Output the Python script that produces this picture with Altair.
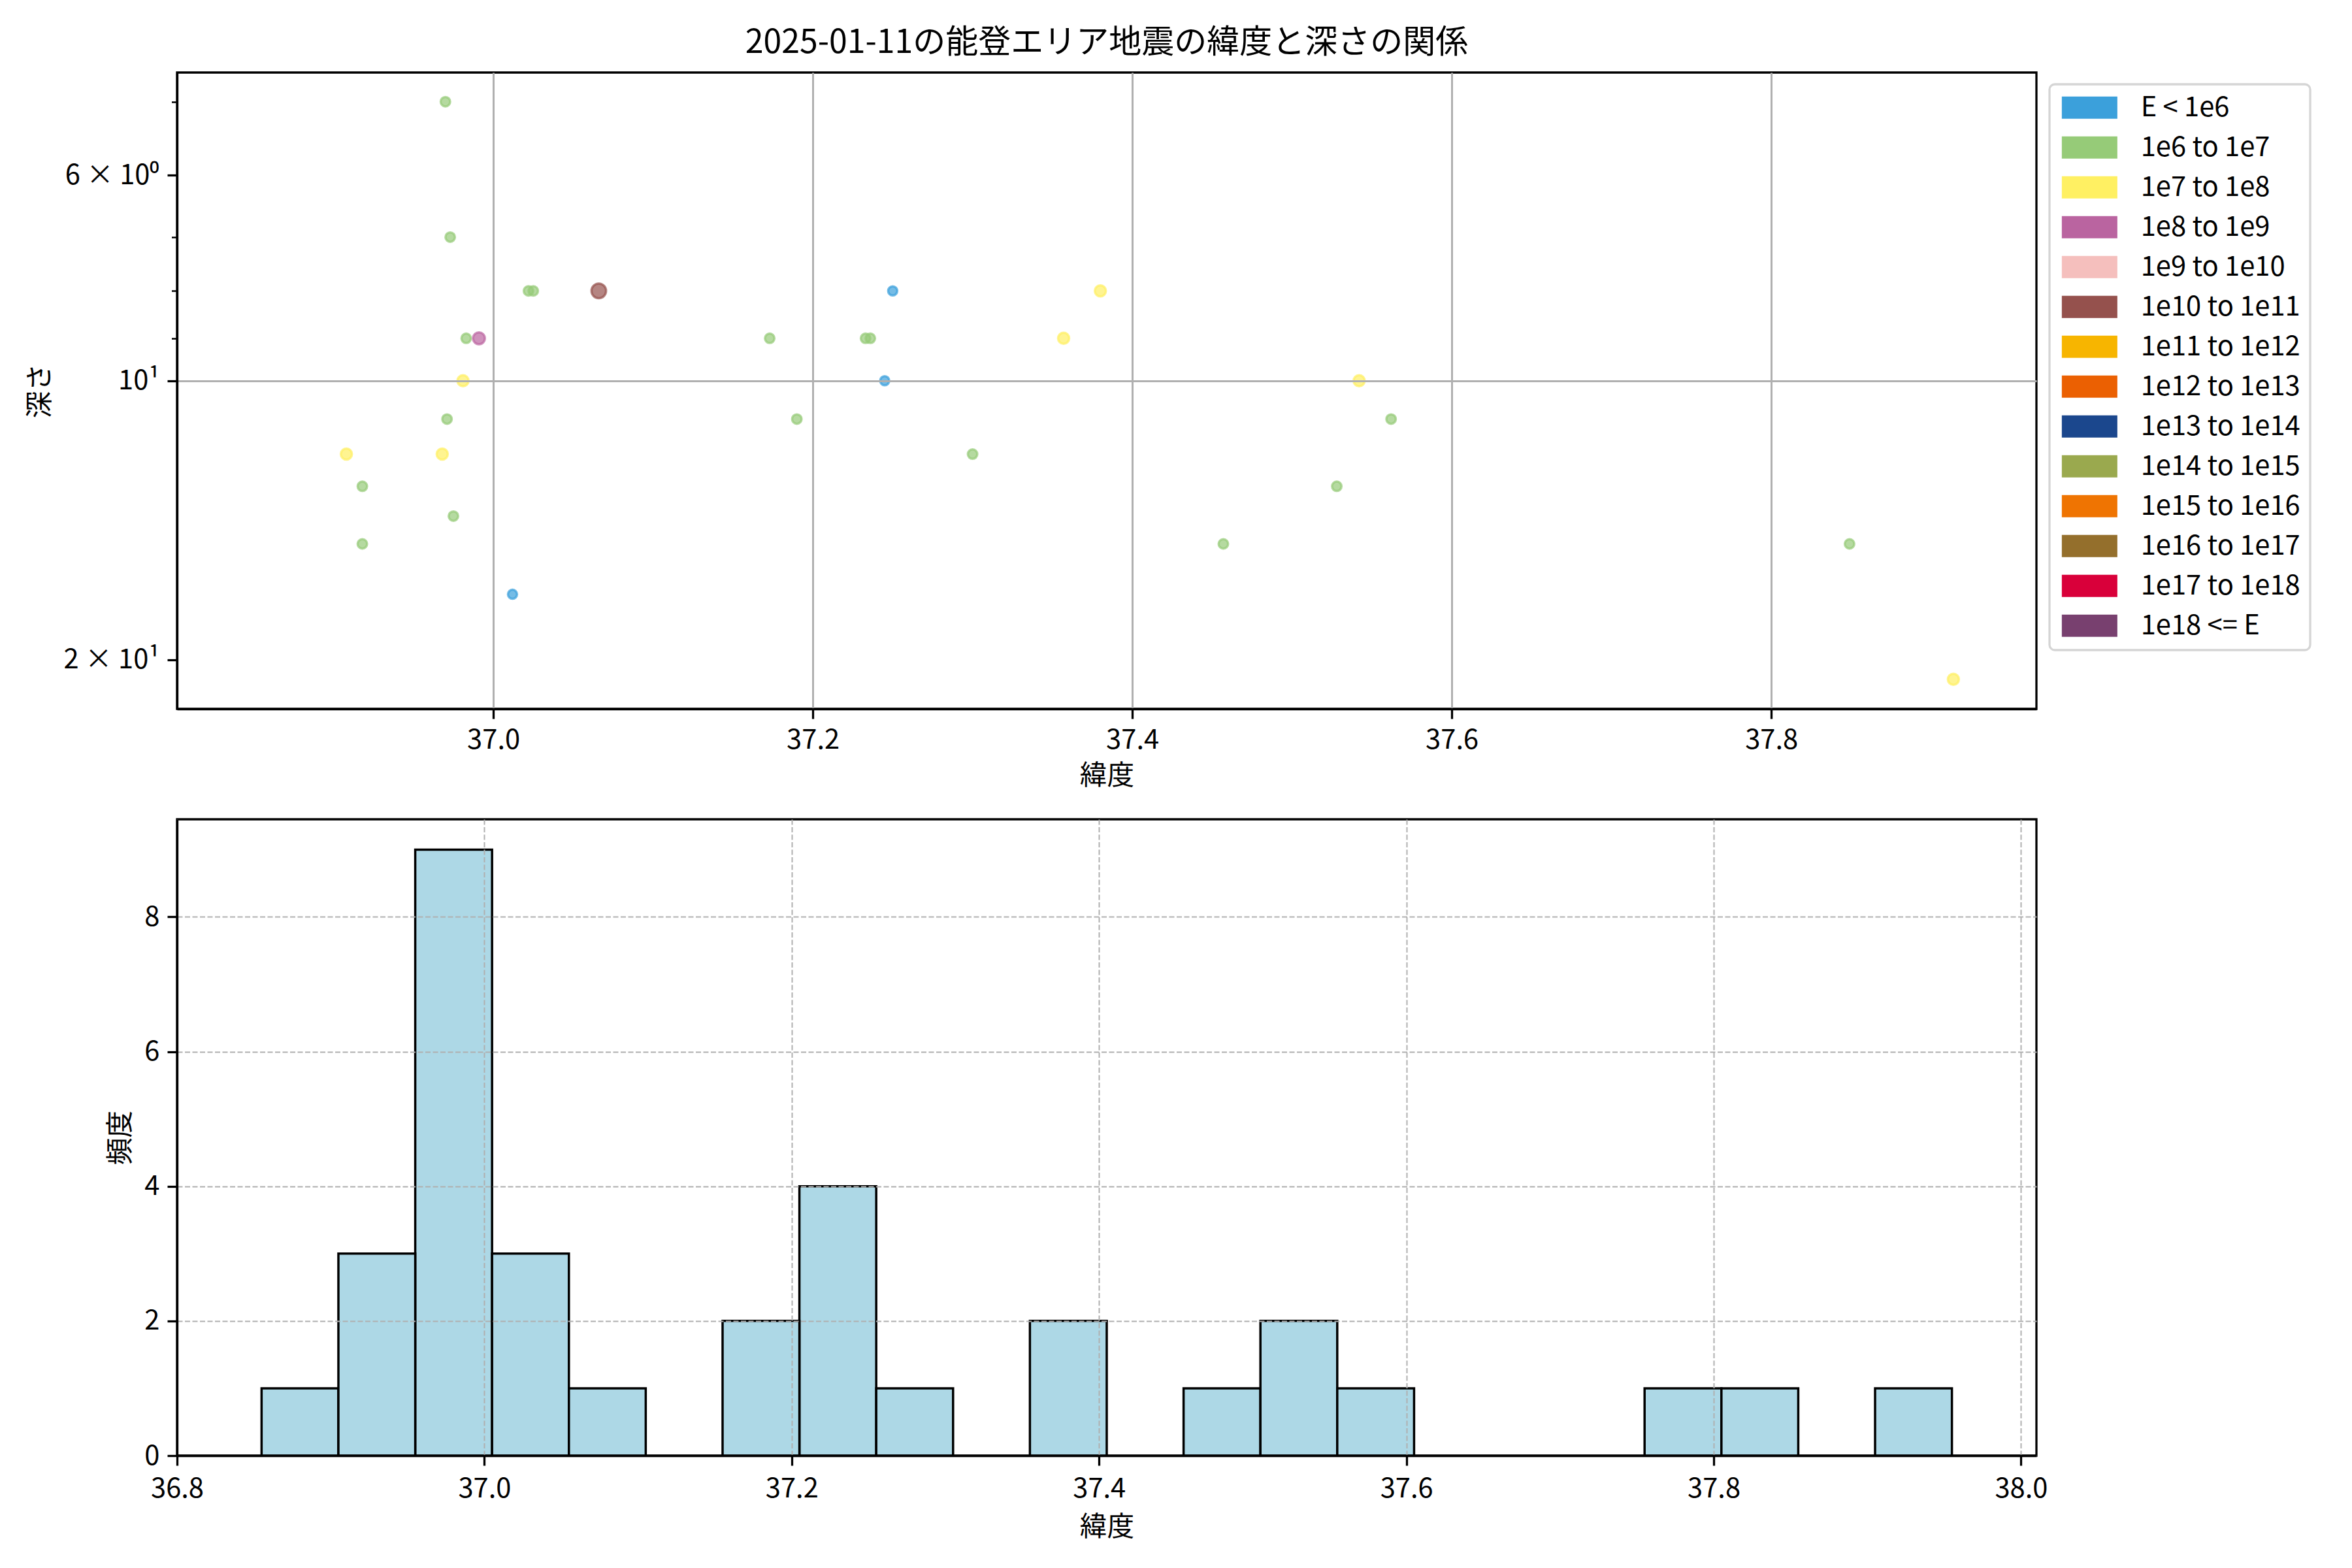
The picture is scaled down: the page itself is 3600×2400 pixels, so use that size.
import altair as alt
import pandas as pd

# ---------------- data ----------------
# three events have depth 0 (not drawable on the log axis, but counted in the histogram)
latitudes = [36.855, 36.990, 37.780,
             36.970, 36.973, 37.022, 37.025, 37.066, 36.983, 36.991, 36.981, 36.971,
             36.908, 36.968, 36.918, 36.975, 36.918, 37.012,
             37.250, 37.233, 37.236, 37.245, 37.173, 37.190, 37.300, 37.357, 37.380,
             37.457, 37.528, 37.542, 37.562, 37.849, 37.914]
depths = [0, 0, 0,
          5, 7, 8, 8, 8, 9, 9, 10, 11,
          12, 12, 13, 14, 15, 17,
          8, 9, 9, 10, 9, 11, 12, 9, 8,
          15, 13, 10, 11, 15, 21]
energy_class = ["1e6 to 1e7", "1e6 to 1e7", "1e6 to 1e7",
                "1e6 to 1e7", "1e6 to 1e7", "1e6 to 1e7", "1e6 to 1e7", "1e10 to 1e11",
                "1e6 to 1e7", "1e8 to 1e9", "1e7 to 1e8", "1e6 to 1e7",
                "1e7 to 1e8", "1e7 to 1e8", "1e6 to 1e7", "1e6 to 1e7", "1e6 to 1e7", "E < 1e6",
                "E < 1e6", "1e6 to 1e7", "1e6 to 1e7", "E < 1e6", "1e6 to 1e7", "1e6 to 1e7",
                "1e6 to 1e7", "1e7 to 1e8", "1e7 to 1e8",
                "1e6 to 1e7", "1e6 to 1e7", "1e7 to 1e8", "1e6 to 1e7", "1e6 to 1e7", "1e7 to 1e8"]

classes = ["E < 1e6", "1e6 to 1e7", "1e7 to 1e8", "1e8 to 1e9", "1e9 to 1e10",
           "1e10 to 1e11", "1e11 to 1e12", "1e12 to 1e13", "1e13 to 1e14",
           "1e14 to 1e15", "1e15 to 1e16", "1e16 to 1e17", "1e17 to 1e18", "1e18 <= E"]
class_colors = ["#3ba0db", "#96cb78", "#fff062", "#ba64a0", "#f5bfbd",
                "#95514d", "#f7b500", "#eb6002", "#1b478d",
                "#9aa94e", "#ef7402", "#946f2c", "#d9003a", "#78406f"]
class_sizes = [195, 210, 290, 330, 410, 500, 590, 690, 790, 890, 990, 1090, 1190, 1290]

y_tick_values = [5, 6, 7, 8, 9, 10, 20]
top_x_ticks = [37.0, 37.2, 37.4, 37.6, 37.8]
hist_x_ticks = [36.8, 37.0, 37.2, 37.4, 37.6, 37.8, 38.0]
hist_y_ticks = [0, 2, 4, 6, 8]

TITLE = "2025-01-11の能登エリア地震の緯度と深さの関係"
FONT = "Noto Sans CJK JP"
FS = 41.7
GRID = "#b0b0b0"

df = pd.DataFrame({"lat": latitudes, "depth": depths, "cls": energy_class})

W, H = 2846, 974

# ---------------- scatter ----------------
major_test = "datum.value == 6 || datum.value == 10 || datum.value == 20"
x_top = alt.X("lat:Q",
              scale=alt.Scale(domain=[36.802, 37.966], nice=False, zero=False),
              axis=alt.Axis(values=top_x_ticks, format=".1f", title="緯度",
                            grid=True, gridColor=GRID, gridWidth=3, zindex=1,
                            labelFlush=False))
y_top = alt.Y("depth:Q",
              scale=alt.Scale(type="log", domain=[4.65, 22.6], nice=False, reverse=True),
              axis=alt.Axis(values=y_tick_values, title="深さ",
                            labelExpr="datum.value == 6 ? '6 × 10⁰' : datum.value == 10 ? '10¹' : datum.value == 20 ? '2 × 10¹' : ''",
                            labelOverlap=False, labelFlush=False,
                            grid=True, gridColor=GRID, gridWidth=3, zindex=1,
                            gridOpacity={"condition": {"test": "datum.value == 10", "value": 1}, "value": 0},
                            tickSize={"condition": {"test": major_test, "value": 15}, "value": 8.5},
                            tickWidth={"condition": {"test": major_test, "value": 3.3}, "value": 2.5}))
color_top = alt.Color("cls:N", scale=alt.Scale(domain=classes, range=class_colors),
                      legend=alt.Legend(orient="none", legendX=2866, legendY=18, title=None,
                                        symbolType="M-1,-1H4V1H-1Z", symbolSize=1156,
                                        symbolOpacity=1, symbolStrokeWidth=0,
                                        labelFontSize=FS, labelFont=FONT, labelColor="black",
                                        labelOffset=83, rowPadding=18, labelLimit=1000))

layers = []
for c, col, s in zip(classes, class_colors, class_sizes):
    layers.append(
        alt.Chart(df).transform_filter("datum.depth > 0").transform_filter(
            alt.FieldEqualPredicate(field="cls", equal=c)
        ).mark_circle(
            size=s, stroke=col, fillOpacity=0.7, strokeOpacity=0.7, strokeWidth=3.5
        ).encode(x=x_top, y=y_top, color=color_top)
    )

scatter = alt.layer(*layers).properties(
    width=W, height=H,
    title=alt.Title(TITLE, fontSize=50, fontWeight="normal", font=FONT, color="black",
                    anchor="middle", frame="group", offset=20)
)

# ---------------- histogram ----------------
hist = alt.Chart(df).transform_bin(
    as_=["bin_start", "bin_end"], field="lat",
    bin=alt.Bin(anchor=36.855, step=0.05, extent=[36.855, 37.955], nice=False)
).transform_aggregate(
    count="count()", groupby=["bin_start", "bin_end"]
).mark_bar(color="#add8e6", stroke="black", strokeWidth=3.5).encode(
    x=alt.X("bin_start:Q",
            scale=alt.Scale(domain=[36.8, 38.01], nice=False, zero=False),
            axis=alt.Axis(values=hist_x_ticks, format=".1f", title="緯度",
                          grid=True, gridColor=GRID, gridWidth=2, gridDash=[8, 3.5],
                          zindex=1, labelFlush=False, labelPadding=15, titlePadding=18)),
    x2="bin_end:Q",
    y=alt.Y("count:Q",
            scale=alt.Scale(domain=[0, 9.45], nice=False),
            axis=alt.Axis(values=hist_y_ticks, title="頻度",
                          grid=True, gridColor=GRID, gridWidth=2, gridDash=[8, 3.5],
                          zindex=1)),
    y2=alt.datum(0),
).properties(width=W, height=H)

chart = alt.vconcat(scatter, hist, spacing=40).configure(
    font=FONT,
    padding={"left": 31, "top": 31, "right": 10, "bottom": 10},
).configure_view(
    stroke="black", strokeWidth=3.3
).configure_axis(
    labelFont=FONT, titleFont=FONT, labelFontSize=FS, titleFontSize=FS,
    titleFontWeight="normal", labelColor="black", titleColor="black",
    tickColor="black", domainColor="black", tickSize=15, tickWidth=3.3,
    domainWidth=3.3, labelPadding=12, titlePadding=14
).configure_legend(
    strokeColor="#d5d5d5", strokeWidth=3.3, cornerRadius=8, fillColor="white",
    padding=15
)

chart.save("out.html", embed_options={"renderer": "svg", "actions": False})
